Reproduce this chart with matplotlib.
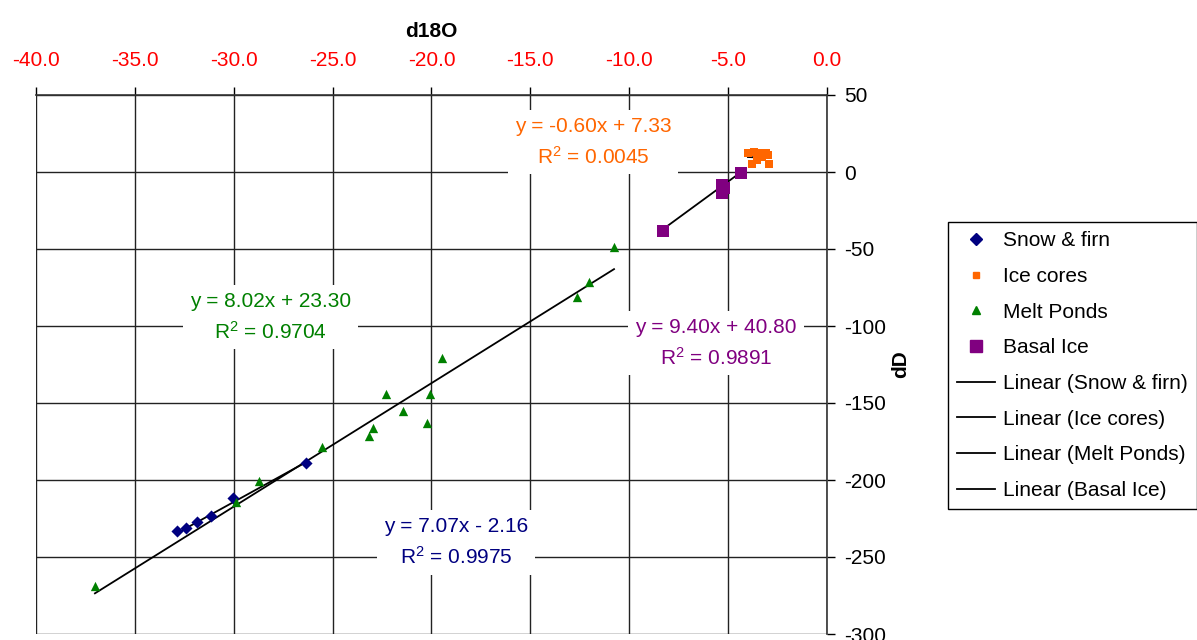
import numpy as np
import matplotlib.pyplot as plt
from matplotlib.lines import Line2D

plt.rcParams['font.family'] = ['Liberation Sans', 'DejaVu Sans']
plt.rcParams['mathtext.fontset'] = 'custom'
plt.rcParams['mathtext.rm'] = 'Liberation Sans'
plt.rcParams['mathtext.it'] = 'Liberation Sans'
plt.rcParams['axes.unicode_minus'] = False

# d18O (x) and dD (y) values per sample group
snow_x = [-32.87, -32.41, -31.86, -31.15, -30.04, -26.35]
snow_y = [-233.1, -231.2, -227.3, -223.4, -211.7, -189.0]

ice_x = [-4.0, -3.7, -3.4, -3.1, -3.0, -3.8, -3.55, -2.95, -3.3]
ice_y = [12.5, 13.0, 12.5, 12.5, 11.0, 5.0, 7.5, 5.0, 9.5]

melt_x = [-37.02, -28.72, -29.89, -25.54, -23.16, -22.96, -22.30, -21.44,
          -20.23, -20.08, -19.47, -12.64, -12.04, -10.77]
melt_y = [-268.8, -200.6, -214.3, -178.6, -171.4, -166.2, -144.2, -155.2,
          -163.0, -144.2, -120.8, -81.2, -71.4, -48.7]

basal_x = [-8.29, -5.31, -5.31, -5.2, -4.35]
basal_y = [-38.3, -8.4, -13.6, -10.5, -0.6]

names = ['Snow & firn', 'Ice cores', 'Melt Ponds', 'Basal Ice']
colors = ['#000080', '#FF6600', '#008000', '#800080']
markers = ['D', 's', '^', 's']
msizes = [38, 32, 45, 70]

# trendline coefficients as printed on the chart
slopes = [7.07, -0.60, 8.02, 9.40]
intercepts = [-2.16, 7.33, 23.30, 40.80]
r2 = ['0.9975', '0.0045', '0.9704', '0.9891']
label_pos = [(-18.76, -240.6), (-11.83, 19.5), (-28.12, -94.2), (-5.61, -111.0)]

xs = [snow_x, ice_x, melt_x, basal_x]
ys = [snow_y, ice_y, melt_y, basal_y]

fig = plt.figure(figsize=(11.97, 6.4), dpi=100)
ax = fig.add_axes([36/1197, 6/640, 791/1197, 539/640])

for i in range(4):
    x0, x1 = min(xs[i]), max(xs[i])
    if i == 1:
        x1 = -2.85
    lx = np.array([x0, x1])
    ax.plot(lx, slopes[i]*lx + intercepts[i], color='black', lw=1.3, zorder=3)

for i in range(4):
    ax.scatter(xs[i], ys[i], marker=markers[i], s=msizes[i], color=colors[i],
               linewidths=0, zorder=4)

for i in range(4):
    b = intercepts[i]
    sign = '+' if b >= 0 else '-'
    txt = "y = %.2fx %s %.2f\nR$^2$ = %s" % (slopes[i], sign, abs(b), r2[i])
    ax.text(label_pos[i][0], label_pos[i][1], txt, color=colors[i], fontsize=15,
            ha='center', va='center', multialignment='center', linespacing=1.55,
            zorder=5, bbox=dict(facecolor='white', edgecolor='none', pad=5))

ax.set_xlim(-40, 0)
ax.set_ylim(-300, 50)
ax.set_xticks(np.arange(-40, 1, 5))
ax.set_yticks(np.arange(-300, 51, 50))
ax.set_xticklabels(["%.1f" % v for v in np.arange(-40, 1, 5)])
ax.xaxis.tick_top()
ax.xaxis.set_label_position('top')
ax.yaxis.tick_right()
ax.yaxis.set_label_position('right')
ax.tick_params(axis='x', colors='red', labelsize=15, length=6, width=1, pad=12)
ax.tick_params(axis='x', color='black')
ax.tick_params(axis='y', labelsize=15, length=6, width=1, pad=6)
ax.set_xlabel('d18O', fontsize=15, fontweight='bold', labelpad=10)
ax.set_ylabel('dD', fontsize=15, fontweight='bold', labelpad=4)
ax.grid(True, color='#222222', lw=1)
ax.set_axisbelow(True)
for s in ['left', 'bottom']:
    ax.spines[s].set_visible(False)
for s in ['top', 'right']:
    ax.spines[s].set_color('#333333')
    ax.spines[s].set_linewidth(1.2)

handles = []
for i in range(4):
    handles.append(Line2D([], [], ls='none', marker=markers[i], color=colors[i],
                          markersize=[6, 4, 6, 9][i]))
for i in range(4):
    handles.append(Line2D([], [], color='black', lw=1.3))
labels = names + ['Linear (%s)' % n for n in names]
leg = fig.legend(handles, labels, loc='upper left', bbox_to_anchor=(948/1197, 1 - 222/640),
                 bbox_transform=fig.transFigure, fontsize=15, frameon=True, fancybox=False,
                 edgecolor='black', framealpha=1, borderpad=0.45, labelspacing=0.8,
                 handlelength=1.8, handletextpad=0.4, borderaxespad=0)
leg.get_frame().set_linewidth(1)

fig.savefig('out.png', dpi=100)
